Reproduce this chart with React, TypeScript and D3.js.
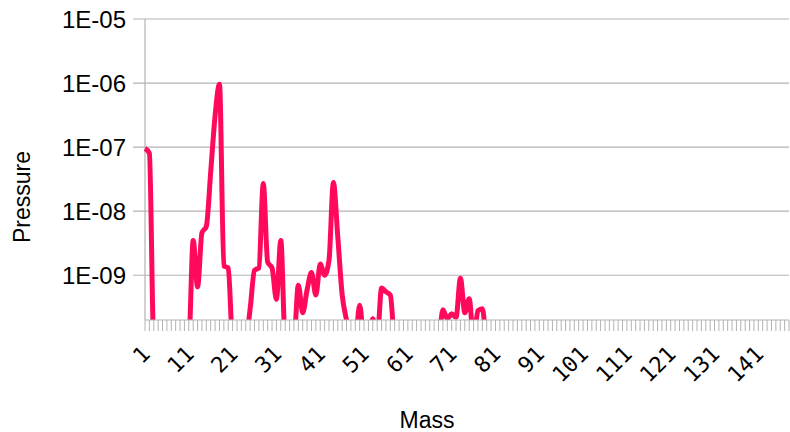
import React from "react";
import * as d3 from "d3";

const WIDTH = 790;
const HEIGHT = 432;
const PLOT = { left: 145, right: 789, top: 19, bottom: 320 };
const LINE_COLOR = "#ff0a5b";
const GRID_COLOR = "#b3b3b3";
const FONT = "'Liberation Sans', Arial, sans-serif";
const MONO = "'DejaVu Sans Mono', 'Liberation Mono', monospace";

// mass numbers 1..148 (category axis)
const masses: number[] = d3.range(1, 149);

// partial pressure per mass, 0 = below the visible floor
const pressure: number[] = [
  9.5e-8, 8e-8, 0, 0, 0, 0, 0, 0, 0, 0,
  0, 3.5e-9, 6.6e-10, 4.6e-9, 5.8e-9, 4.1e-8, 3.1e-7, 9.6e-7, 1.4e-9, 1.3e-9,
  0, 0, 0, 0, 3e-10, 1.2e-9, 1.3e-9, 2.7e-8, 1.6e-9, 1.3e-9,
  4.2e-10, 3.5e-9, 0, 0, 0, 7e-10, 2.6e-10, 5.9e-10, 1.1e-9, 4.9e-10,
  1.5e-9, 1e-9, 1.7e-9, 2.8e-8, 4e-9, 5e-10, 2e-10, 0, 0, 3.4e-10,
  0, 0, 2.1e-10, 0, 6.3e-10, 5.5e-10, 4.9e-10, 0, 0, 0,
  0, 0, 0, 0, 0, 0, 0, 0, 2.9e-10, 2.1e-10,
  2.5e-10, 2.2e-10, 9e-10, 2.6e-10, 4.3e-10, 0, 2.8e-10, 3e-10, 0, 0,
  0, 0, 0, 0, 0, 0, 0, 0, 0, 0,
  0, 0, 0, 0, 0, 0, 0, 0, 0, 0,
  0, 0, 0, 0, 0, 0, 0, 0, 0, 0,
  0, 0, 0, 0, 0, 0, 0, 0, 0, 0,
  0, 0, 0, 0, 0, 0, 0, 0, 0, 0,
  0, 0, 0, 0, 0, 0, 0, 0, 0, 0,
  0, 0, 0, 0, 0, 0, 0, 0,
];

const yTicks = [1e-9, 1e-8, 1e-7, 1e-6, 1e-5];
const yTickLabels = ["1E-09", "1E-08", "1E-07", "1E-06", "1E-05"];
const xLabelMasses = [1, 11, 21, 31, 41, 51, 61, 71, 81, 91, 101, 111, 121, 131, 141];

const FLOOR = 1e-10; // where zero readings are drawn (just under the axis)

export default function App() {
  const x = d3.scalePoint<number>().domain(masses).range([PLOT.left, PLOT.right]);
  const y = d3.scaleLog().domain([2e-10, 1e-5]).range([PLOT.bottom, PLOT.top]);

  const path = d3
    .line<number>()
    .x((d, i) => x(masses[i]) as number)
    .y((d) => y(d > 0 ? d : FLOOR))
    .curve(d3.curveMonotoneX)(pressure);

  return (
    <svg
      width={WIDTH}
      height={HEIGHT}
      style={{ position: "absolute", left: 0, top: 0, background: "#fff" }}
    >
      <defs>
        <clipPath id="plotClip">
          <rect x={PLOT.left - 4} y={0} width={PLOT.right - PLOT.left + 8} height={PLOT.bottom} />
        </clipPath>
      </defs>

      {/* horizontal grid + outer y ticks */}
      {yTicks.map((t) => (
        <line
          key={t}
          x1={PLOT.left - 12}
          x2={PLOT.right}
          y1={y(t)}
          y2={y(t)}
          stroke={GRID_COLOR}
          strokeWidth={1.2}
        />
      ))}

      <line x1={PLOT.left} x2={PLOT.left} y1={PLOT.top} y2={PLOT.bottom} stroke={GRID_COLOR} strokeWidth={1.2} />

      <path
        d={path || ""}
        fill="none"
        stroke={LINE_COLOR}
        strokeWidth={5}
        strokeLinejoin="round"
        clipPath="url(#plotClip)"
      />

      {/* x axis */}
      <line x1={PLOT.left} x2={PLOT.right} y1={PLOT.bottom} y2={PLOT.bottom} stroke={GRID_COLOR} strokeWidth={1.2} />
      {masses.map((m) => (
        <line
          key={m}
          x1={x(m)}
          x2={x(m)}
          y1={PLOT.bottom}
          y2={PLOT.bottom + 11}
          stroke={GRID_COLOR}
          strokeWidth={1}
        />
      ))}

      {yTicks.map((t, i) => (
        <text
          key={t}
          x={126}
          y={y(t)}
          dy="0.36em"
          textAnchor="end"
          fontFamily={FONT}
          fontSize={24}
          fill="#000"
        >
          {yTickLabels[i]}
        </text>
      ))}

      {xLabelMasses.map((m) => (
        <text
          key={m}
          transform={`translate(${(x(m) as number) + 1},350) rotate(-45)`}
          dy="0.35em"
          textAnchor="end"
          fontFamily={MONO}
          fontSize={22}
          fill="#000"
        >
          {m}
        </text>
      ))}

      <text
        transform="translate(22,197) rotate(-90)"
        dy="0.35em"
        textAnchor="middle"
        fontFamily={FONT}
        fontSize={23}
      >
        Pressure
      </text>
      <text x={427} y={428} textAnchor="middle" fontFamily={FONT} fontSize={23}>
        Mass
      </text>
    </svg>
  );
}
